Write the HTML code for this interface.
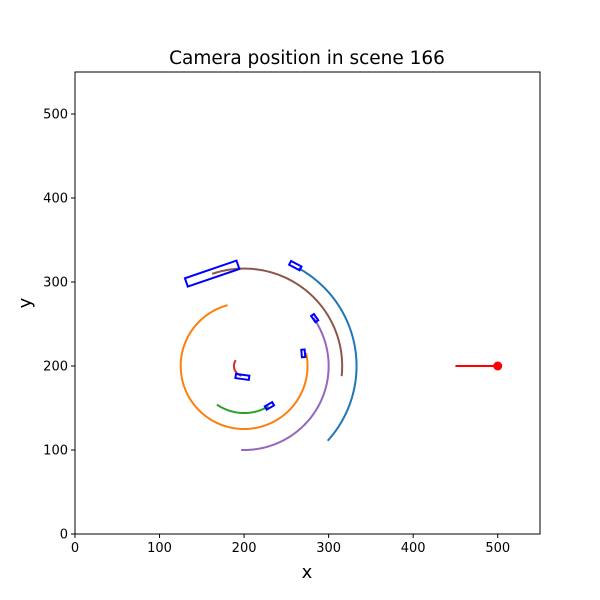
<!DOCTYPE html>
<html><head><meta charset="utf-8"><style>
html,body{margin:0;padding:0;background:#fff;}
svg{display:block;font-family:"DejaVu Sans","Liberation Sans",sans-serif;}
</style></head><body>
<svg id="chart" width="600" height="600" viewBox="0 0 600 600">
<rect x="0" y="0" width="600" height="600" fill="#fff"/>
<text x="307" y="64" text-anchor="middle" font-size="18.5">Camera position in scene 166</text>
<text x="307" y="578" text-anchor="middle" font-size="18">x</text>
<text x="31" y="303" text-anchor="middle" font-size="18" transform="rotate(-90 31 303)">y</text>
<g id="plot"></g>
<g id="ticks"></g>
<rect x="75" y="72" width="465" height="462" fill="none" stroke="#000" stroke-width="1"/>
</svg>
<script>
const xTicks = [0,100,200,300,400,500];
const yTicks = [0,100,200,300,400,500];
// arcs: center x, center y, radius, start angle, end angle (deg)
const arcNames = ['blue-trajectory','orange-trajectory','green-trajectory','red-trajectory','purple-trajectory','brown-trajectory'];
const arcColors = ['#1f77b4','#ff7f0e','#2ca02c','#d62728','#9467bd','#8c564b'];
const arcCx = [200,200,200,200,200,200];
const arcCy = [200,200,200,200,200,200];
const arcR = [133,75,56,12,100,116];
const arcStart = [61,105,235,145,268,109];
const arcEnd = [-42,372,301,255,395,-6];
// cars: center x, center y, length, width, angle (deg)
const carX = [198,260.6,270,230,283.5,162.2];
const carY = [187,319.5,215,152.5,257,310];
const carLen = [16,14,9,10,9,64.5];
const carWid = [5,5,4,4.5,4,10.5];
const carAng = [-8,-28,-85,30,-55,19];
// camera
const camX = [450,500];
const camY = [200,200];

const NS='http://www.w3.org/2000/svg';
const X0=75,X1=540,Y0=534,Y1=72,XMAX=550,YMAX=550;
function sx(v){return X0+(X1-X0)*v/XMAX;}
function sy(v){return Y0-(Y0-Y1)*v/YMAX;}
function mk(tag,attrs,parent){const e=document.createElementNS(NS,tag);for(const k in attrs)e.setAttribute(k,attrs[k]);parent.appendChild(e);return e;}
const plot=document.getElementById('plot');
const ticks=document.getElementById('ticks');

for(let i=0;i<arcR.length;i++){
  const pts=[];const n=120;
  for(let j=0;j<=n;j++){
    const a=(arcStart[i]+(arcEnd[i]-arcStart[i])*j/n)*Math.PI/180;
    pts.push(sx(arcCx[i]+arcR[i]*Math.cos(a)).toFixed(2)+','+sy(arcCy[i]+arcR[i]*Math.sin(a)).toFixed(2));
  }
  const p=mk('polyline',{points:pts.join(' '),fill:'none',stroke:arcColors[i],'stroke-width':2},plot);
  
  
}
for(let i=0;i<carX.length;i++){
  const a=carAng[i]*Math.PI/180,c=Math.cos(a),s=Math.sin(a);
  const hl=carLen[i]/2,hw=carWid[i]/2;
  const corners=[[-hl,-hw],[hl,-hw],[hl,hw],[-hl,hw]].map(([u,v])=>sx(carX[i]+u*c-v*s).toFixed(2)+','+sy(carY[i]+u*s+v*c).toFixed(2));
  const r=mk('polygon',{points:corners.join(' '),fill:'none',stroke:'#0000ff','stroke-width':2},plot);
  
  
}
const cl=mk('line',{x1:sx(camX[0]),y1:sy(camY[0]),x2:sx(camX[1]),y2:sy(camY[1]),stroke:'#ff0000','stroke-width':2},plot);


const cd=mk('circle',{cx:sx(camX[1]),cy:sy(camY[1]),r:4.5,fill:'#ff0000'},plot);



xTicks.forEach(v=>{
  const x=sx(v);
  const l=mk('line',{x1:x,y1:Y0,x2:x,y2:Y0+4,stroke:'#000','stroke-width':1},ticks);
  
  
  const t=mk('text',{x:x,y:Y0+18,'text-anchor':'middle','font-size':13},ticks);
  t.textContent=v;
  
  
});
yTicks.forEach(v=>{
  const y=sy(v);
  const l=mk('line',{x1:X0-4,y1:y,x2:X0,y2:y,stroke:'#000','stroke-width':1},ticks);
  
  
  const t=mk('text',{x:X0-7,y:y+4.5,'text-anchor':'end','font-size':13},ticks);
  t.textContent=v;
  
  
});
</script>
</body></html>
